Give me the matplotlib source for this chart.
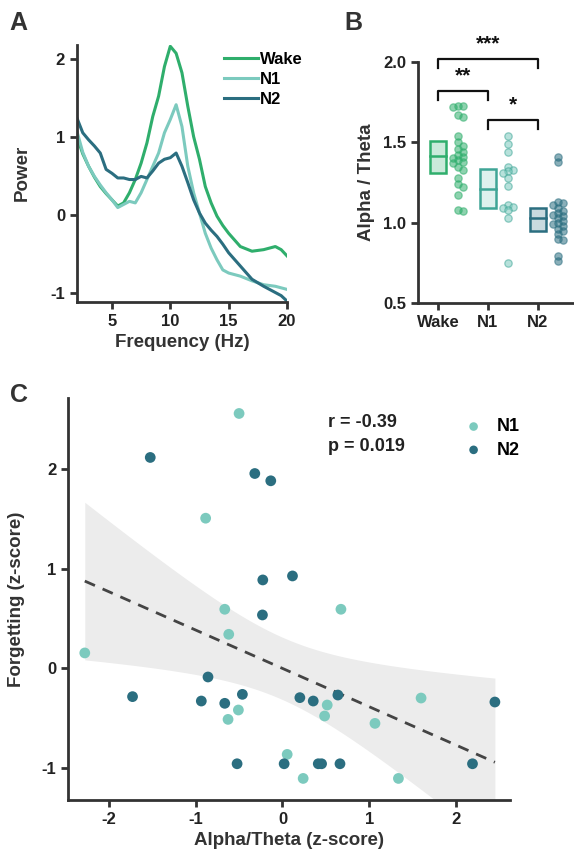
import matplotlib
matplotlib.use("Agg")
import matplotlib.pyplot as plt
import numpy as np

plt.rcParams["font.family"] = ["Liberation Sans", "DejaVu Sans"]
plt.rcParams["font.weight"] = "bold"
plt.rcParams["axes.unicode_minus"] = False

WAKE_C = "#2fae6c"
N1_C = "#7ccabe"
N2_C = "#2b6e80"
SPINE_C = "#333333"

# --- panel A: power spectra
freq = [2, 2.5, 3, 3.5, 4, 4.5, 5, 5.5, 6, 6.5, 7, 7.5, 8, 8.5, 9, 9.5, 10, 10.5, 11,
        11.5, 12, 12.5, 13, 13.5, 14, 14.5, 15, 16, 17, 18, 19, 19.5, 20]
pow_wake = [1.0, 0.78, 0.62, 0.48, 0.36, 0.27, 0.19, 0.11, 0.15, 0.28, 0.45, 0.66, 0.92,
            1.26, 1.52, 1.90, 2.16, 2.07, 1.82, 1.39, 1.0, 0.71, 0.36, 0.15, -0.02,
            -0.14, -0.24, -0.41, -0.47, -0.45, -0.41, -0.45, -0.53]
pow_n1 = [1.07, 0.80, 0.62, 0.49, 0.38, 0.28, 0.19, 0.09, 0.13, 0.17, 0.15, 0.28, 0.45,
          0.62, 0.79, 1.05, 1.22, 1.41, 1.13, 0.62, 0.28, 0.02, -0.24, -0.43, -0.58,
          -0.71, -0.75, -0.79, -0.85, -0.90, -0.92, -0.94, -0.96]
pow_n2 = [1.24, 1.05, 0.96, 0.88, 0.79, 0.58, 0.53, 0.47, 0.47, 0.45, 0.45, 0.49, 0.47,
          0.56, 0.66, 0.71, 0.73, 0.79, 0.62, 0.41, 0.19, 0.02, -0.11, -0.20, -0.28,
          -0.38, -0.49, -0.66, -0.83, -0.92, -1.0, -1.04, -1.11]

# --- panel B: alpha/theta ratio
stages = ["Wake", "N1", "N2"]
ratio_wake = [1.73, 1.73, 1.72, 1.67, 1.66, 1.54, 1.50, 1.48, 1.46, 1.44, 1.42, 1.41,
              1.40, 1.39, 1.38, 1.37, 1.35, 1.33, 1.28, 1.24, 1.22, 1.17, 1.08, 1.07]
ratio_n1 = [1.54, 1.49, 1.44, 1.35, 1.33, 1.32, 1.31, 1.28, 1.23, 1.11, 1.10, 1.09,
            1.08, 1.03, 0.75]
ratio_n2 = [1.41, 1.38, 1.13, 1.12, 1.11, 1.09, 1.07, 1.06, 1.05, 1.04, 1.03, 1.01,
            1.00, 0.99, 0.98, 0.96, 0.95, 0.93, 0.90, 0.89, 0.79, 0.76]
box_mid = [1.417, 1.21, 1.03]
box_lo = [1.31, 1.094, 0.948]
box_hi = [1.506, 1.333, 1.09]
sig_pairs = [(0, 1), (1, 2), (0, 2)]
sig_labels = ["**", "*", "***"]
sig_heights = [1.82, 1.64, 2.02]

# --- panel C: correlation
n1_x = [-0.50, -0.885, -2.277, -0.665, -0.619, 0.673, -0.508, -0.627, 0.515, 0.485,
        0.054, 0.238, 1.065, 1.596, 1.335]
n1_y = [2.555, 1.505, 0.154, 0.592, 0.341, 0.592, -0.418, -0.512, -0.368, -0.478,
        -0.863, -1.104, -0.552, -0.298, -1.104]
n2_x = [-1.523, -0.319, -0.135, -0.227, 0.115, -0.231, -1.727, -0.858, -0.935, -0.665,
        -0.462, 0.20, 0.354, 0.638, 2.446, -0.523, 0.019, 0.412, 0.45, 0.662, 2.188]
n2_y = [2.114, 1.953, 1.880, 0.886, 0.926, 0.535, -0.284, -0.087, -0.328, -0.351,
        -0.261, -0.294, -0.328, -0.268, -0.338, -0.957, -0.957, -0.957, -0.957, -0.957,
        -0.957]


def style_axes(ax):
    for s in ("top", "right"):
        ax.spines[s].set_visible(False)
    for s in ("left", "bottom"):
        ax.spines[s].set_color(SPINE_C)
        ax.spines[s].set_linewidth(2)
    ax.tick_params(width=2, length=5, color=SPINE_C, labelsize=12, labelcolor="#222222")


def swarm(vals, diam_x, diam_y):
    # simple beeswarm: put each point as close to the centre as it fits
    order = np.argsort(vals)[::-1]
    placed = []
    offs = np.zeros(len(vals))
    cands = [0.0]
    for k in range(1, 8):
        cands += [k * diam_x * 0.5, -k * diam_x * 0.5]
    for i in order:
        v = vals[i]
        offs[i] = cands[-1]
        for c in cands:
            ok = True
            for (px, py) in placed:
                if ((c - px) / diam_x) ** 2 + ((v - py) / diam_y) ** 2 < 1.0:
                    ok = False
                    break
            if ok:
                offs[i] = c
                break
        placed.append((offs[i], v))
    return np.clip(offs, -0.16, 0.16)


fig = plt.figure(figsize=(5.74, 8.6), dpi=100)
fig.patch.set_facecolor("white")

# ---------- A
ax_a = fig.add_axes([0.134, 0.649, 0.366, 0.299])
ax_a.plot(freq, pow_wake, color=WAKE_C, lw=2.2, label="Wake")
ax_a.plot(freq, pow_n1, color=N1_C, lw=2.2, label="N1")
ax_a.plot(freq, pow_n2, color=N2_C, lw=2.2, label="N2")
ax_a.set_xlim(2, 20)
ax_a.set_ylim(-1.12, 2.18)
ax_a.set_xticks([5, 10, 15, 20])
ax_a.set_yticks([-1, 0, 1, 2])
style_axes(ax_a)
ax_a.set_xlabel("Frequency (Hz)", fontsize=13.5, fontweight="bold", color="#333333", labelpad=4)
ax_a.set_ylabel("Power", fontsize=13.5, fontweight="bold", color="#333333", labelpad=14)
leg = ax_a.legend(loc="upper left", bbox_to_anchor=(0.63, 1.03), frameon=False,
                  fontsize=12, handlelength=2.0, handletextpad=0.15, labelspacing=0.3)
for t in leg.get_texts():
    t.set_fontweight("bold")
fig.text(0.017, 0.965, "A", fontsize=18, fontweight="bold", color="#333333")

# ---------- B
ax_b = fig.add_axes([0.728, 0.6477, 0.272, 0.28])
ax_b.set_xlim(-0.4, 2.72)
ax_b.set_ylim(0.5, 2.0)
groups = [ratio_wake, ratio_n1, ratio_n2]
cols = [WAKE_C, N1_C, N2_C]
edge_cols = [WAKE_C, "#3fa596", N2_C]
box_w = 0.32
for i, (vals, c, ec) in enumerate(zip(groups, cols, edge_cols)):
    ax_b.add_patch(plt.Rectangle((i - box_w / 2, box_lo[i]), box_w, box_hi[i] - box_lo[i],
                                 facecolor=c, alpha=0.25, edgecolor="none"))
    ax_b.add_patch(plt.Rectangle((i - box_w / 2, box_lo[i]), box_w, box_hi[i] - box_lo[i],
                                 facecolor="none", edgecolor=ec, lw=1.8))
    ax_b.plot([i - box_w / 2, i + box_w / 2], [box_mid[i]] * 2, color=ec, lw=1.8)
    v = np.array(vals)
    offs = swarm(v, 0.1, 0.028)
    ax_b.scatter(i + 0.41 + offs, v, s=28, facecolor=c, alpha=0.55, edgecolor=ec,
                 linewidth=0.9, zorder=3)
for (a, b), lab, h in zip(sig_pairs, sig_labels, sig_heights):
    ax_b.plot([a, a, b, b], [h - 0.055, h, h, h - 0.055], color="#111111", lw=1.6,
              clip_on=False)
    ax_b.text((a + b) / 2, h + 0.035, lab, ha="center", va="bottom", fontsize=15,
              fontweight="bold", color="#111111")
ax_b.set_xticks([0, 1, 2])
ax_b.set_xticklabels(stages)
ax_b.set_yticks([0.5, 1.0, 1.5, 2.0])
ax_b.set_yticklabels(["0.5", "1.0", "1.5", "2.0"])
style_axes(ax_b)
ax_b.spines["left"].set_bounds(0.5, 2.0)
ax_b.set_ylabel("Alpha / Theta", fontsize=13.5, fontweight="bold", color="#333333", labelpad=6)
fig.text(0.6, 0.965, "B", fontsize=18, fontweight="bold", color="#333333")

# ---------- C
ax_c = fig.add_axes([0.1185, 0.0698, 0.77, 0.4674])
all_x = np.array(n1_x + n2_x)
all_y = np.array(n1_y + n2_y)
n = len(all_x)
slope, icpt = np.polyfit(all_x, all_y, 1)
xs = np.linspace(all_x.min(), all_x.max(), 100)
resid = all_y - (slope * all_x + icpt)
s_err = np.sqrt(np.sum(resid ** 2) / (n - 2))
sxx = np.sum((all_x - all_x.mean()) ** 2)
t_val = 2.032
half = t_val * s_err * np.sqrt(1.0 / n + (xs - all_x.mean()) ** 2 / sxx)
fit = slope * xs + icpt
ax_c.fill_between(xs, fit - half, fit + half, color="#ececec", lw=0, zorder=1)
ax_c.plot(xs, fit, color="#444444", lw=2, ls=(0, (4, 3)), zorder=2)
ax_c.scatter(n1_x, n1_y, s=60, color=N1_C, edgecolor="none", zorder=3, label="N1")
ax_c.scatter(n2_x, n2_y, s=60, color=N2_C, edgecolor="none", zorder=3, label="N2")
ax_c.set_xlim(-2.47, 2.62)
ax_c.set_ylim(-1.32, 2.71)
ax_c.set_xticks([-2, -1, 0, 1, 2])
ax_c.set_yticks([-1, 0, 1, 2])
style_axes(ax_c)
ax_c.set_xlabel("Alpha/Theta (z-score)", fontsize=13.5, fontweight="bold", color="#333333",
                labelpad=4)
ax_c.set_ylabel("Forgetting (z-score)", fontsize=13.5, fontweight="bold", color="#333333",
                labelpad=12)
ax_c.text(0.588, 0.94, "r = -0.39", transform=ax_c.transAxes, fontsize=13,
          fontweight="bold", va="center", color="#222222")
ax_c.text(0.588, 0.88, "p = 0.019", transform=ax_c.transAxes, fontsize=13,
          fontweight="bold", va="center", color="#222222")
leg_c = ax_c.legend(loc="upper left", bbox_to_anchor=(0.84, 0.99), frameon=False,
                    fontsize=13, handletextpad=0.3, labelspacing=0.35, markerscale=0.8)
for t in leg_c.get_texts():
    t.set_fontweight("bold")
fig.text(0.017, 0.533, "C", fontsize=18, fontweight="bold", color="#333333")

fig.savefig("out.png", dpi=100, facecolor="white")
